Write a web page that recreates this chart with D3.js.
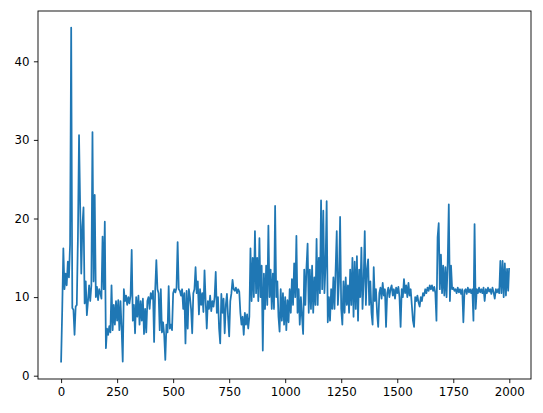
<!DOCTYPE html>
<html>
<head>
<meta charset="utf-8">
<script src="https://cdn.jsdelivr.net/npm/d3@7"></script>
<style>
html,body{margin:0;padding:0;background:#fff;}
svg{display:block;}
text{font-family:"DejaVu Sans",sans-serif;}
</style>
</head>
<body>
<svg id="chart" width="543" height="413"></svg>
<script>
// x step between samples (index units)
const step = 5;
// values for x = 0..495
const seriesA = [
1.8,8.4,16.2,11,13,11.5,14.5,12.5,16.7,44.3,
8.6,8.4,5.2,8.8,9.0,17.5,30.6,21.7,13,19,
21.4,9.2,12,7.7,9.5,11.5,9.5,11.5,31,12,
23,10,11.3,9.6,11,10.5,9.8,17.7,11,19.6,
3.5,6,5.2,6.3,5.5,11.5,5.8,9,6.5,9.5,
7,9.6,5.8,9.5,6,1.8,11,9.5,10.2,9,
10,9.2,10.2,16,7,9,5.4,10,7.5,10.2,
6.5,9.5,7,9.8,5.3,8.5,5.5,9.5,10,8.5,
10.5,9.8,10.8,4.3,11,14.7,11,10.5,5.8,11,
5.5,6.8,5.2,2.0,6.5,5.5,11.4,6,6.5,5.8
];
// values for x = 500..995
const seriesB = [
10.5,11,10.6,11.2,17,11,10.8,10.2,11,8.5,
10.5,4.1,10.8,6,11,10,8.5,5.4,10.5,11,
13.8,10.5,12,7.8,11,9,10.5,8.1,13.4,9.5,
6,9.5,8.5,10.2,8.2,9.5,8.8,10,13.2,8,
10,6,4.1,10.4,8,9.8,5.4,9,10.4,7.5,
5,9.5,10.5,12.2,11,10.8,11.2,10.5,11,10.7,
8,6.5,7.5,5.2,8,6.5,7.8,6,7.5,16.2,
9.5,15,10,18.4,10.5,15,9.5,17.5,10,14,
3.2,13,8.5,14,9,19.1,10,13.5,8.5,13,
8.5,21.6,10,12,7.5,5.6,11,7,10.5,6.5
];
// values for x = 1000..1495
const seriesC = [
10,5.8,9.6,6.8,11,8,12.3,9,14.3,10,
17.8,8,11,6.5,10,7.5,5.3,13.5,9,13.8,
16.8,8,13.5,8.5,14,8,12.5,9,17.4,9,
15,10.5,22.3,11,21,10.5,14,22.2,6.8,10,
7,11,8.5,12.5,8.5,13.5,18.4,9,12,20.2,
8.5,6.5,12,8,12.5,9,11.5,8,13.5,9,
15,7.5,14.5,8.5,15.2,7,13.5,10,16.3,8.5,
12,18.4,9,13.5,14.8,9,12,8,6.5,13.8,
9.5,11,8,6.2,10.5,11.2,9.8,11.8,10.2,11,
6.2,10.5,11.2,10,11,11.5,10.2,11,9.8,11.2
];
// values for x = 1500..1995, then the last point (x = 1999)
const seriesD = [
10.5,11.3,10,6.2,11,10,12.3,10.5,11.5,10,
11.8,10.2,11,9,7,6.2,10,9.5,10.2,9.3,
8.8,10,9.5,10.5,10.2,11,10.5,11.2,10.8,11.5,
11,11.5,10.8,11.3,10.5,7,17.6,19.4,11,15.4,
10.5,14,10.2,13.8,10,14.2,21.8,9.5,14,11,
11.2,10.8,11,10.5,11.2,10.6,11,10.4,11,6.8,
10.8,11,10.4,11.2,10.6,11,10.5,11,7,19.3,
8.5,11,10.5,11.2,10.6,11,10.5,11.2,9.5,11,
10.5,11.2,10.7,11,10.4,11.2,10.6,9.8,11,10.6,
11,10.5,14.6,10.5,14.6,10,14.3,10.2,13.6,10.8,
13.6
];
const xTicks = [0,250,500,750,1000,1250,1500,1750,2000];
const yTicks = [0,10,20,30,40];

const series = seriesA.concat(seriesB, seriesC, seriesD);
const lastX = 1999;
const data = series.map((v,i)=>({x: Math.min(i*step, lastX), y: v}));

const svg = d3.select("#chart");
const L = 38, R = 531, T = 11, B = 379;

const x = d3.scaleLinear().domain([0,2000]).range([61.1,509.3]);
const y = d3.scaleLinear().domain([-0.42,46.4]).range([B,T]);

svg.append("rect").attr("width",543).attr("height",413).attr("fill","#fff");

const line = d3.line().x(d=>x(d.x)).y(d=>y(d.y));
svg.append("path").datum(data)
  .attr("d",line)
  .attr("fill","none")
  .attr("stroke","#1f77b4")
  .attr("stroke-width",1.75)
  .attr("stroke-linejoin","round")
  .attr("stroke-linecap","square");

// axes
const xAxis = d3.axisBottom(x).tickValues(xTicks).tickSize(4.1).tickPadding(4.5).tickFormat(d3.format("d"));
const gx = svg.append("g").attr("transform",`translate(0,${B})`).call(xAxis);
gx.select(".domain").remove();
const yAxis = d3.axisLeft(y).tickValues(yTicks).tickSize(4.1).tickPadding(4.5).tickFormat(d3.format("d"));
const gy = svg.append("g").attr("transform",`translate(${L},0)`).call(yAxis);
gy.select(".domain").remove();
svg.selectAll(".tick line").attr("stroke","#000").attr("stroke-width",0.9);
svg.selectAll(".tick text").attr("fill","#000").style("font-size","11.8px").style("font-family","'DejaVu Sans',sans-serif");

svg.append("rect").attr("x",L).attr("y",T).attr("width",R-L).attr("height",B-T)
  .attr("fill","none").attr("stroke","#000").attr("stroke-width",0.9);
</script>
</body>
</html>
